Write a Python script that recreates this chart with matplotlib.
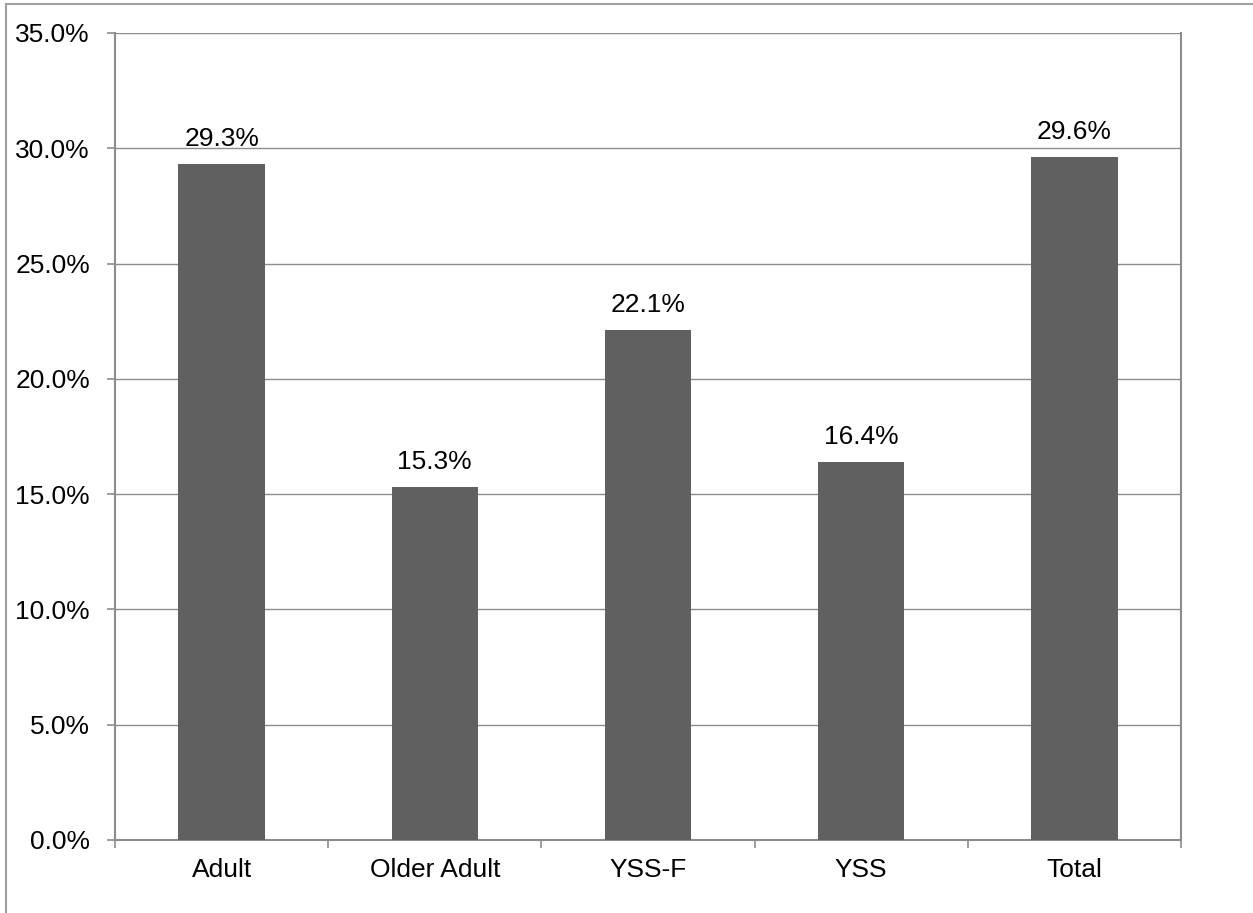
import matplotlib.pyplot as plt
from matplotlib.lines import Line2D
from matplotlib.ticker import FuncFormatter, MultipleLocator

categories = ["Adult", "Older Adult", "YSS-F", "YSS", "Total"]
values = [29.3, 15.3, 22.1, 16.4, 29.6]

BAR_COLOR = "#606060"
LINE_COLOR = "#8c8c8c"
FONT_SIZE = 19

plt.rcParams["font.family"] = ["Liberation Sans", "DejaVu Sans"]

fig = plt.figure(figsize=(12.53, 9.13), dpi=100)
ax = fig.add_axes([0.0918, 0.0800, 0.8507, 0.8839])

x = range(len(categories))
ax.bar(x, values, width=0.405, color=BAR_COLOR, zorder=3)

for xi, v in zip(x, values):
    ax.annotate(f"{v:.1f}%", (xi, v), xytext=(0, 13), textcoords="offset points",
                ha="center", va="baseline", fontsize=FONT_SIZE, color="black")

ax.set_xlim(-0.5, len(categories) - 0.5)
ax.set_ylim(0, 35)
ax.yaxis.set_major_locator(MultipleLocator(5))
ax.yaxis.set_major_formatter(FuncFormatter(lambda v, _: f"{v:.1f}%"))

# category ticks sit between the bars, labels in the middle
ax.set_xticks([i - 0.5 for i in range(len(categories) + 1)])
ax.set_xticklabels([])
ax.set_xticks(list(x), minor=True)
ax.set_xticklabels(categories, minor=True)
ax.tick_params(axis="x", which="minor", length=0, pad=13, labelsize=FONT_SIZE)
ax.tick_params(axis="x", which="major", length=6, color=LINE_COLOR, width=1.2)
ax.tick_params(axis="y", length=6, color=LINE_COLOR, width=1.2, pad=12, labelsize=FONT_SIZE)

ax.grid(axis="y", color=LINE_COLOR, linewidth=1.0, zorder=0)
for side in ["left", "bottom", "right"]:
    ax.spines[side].set_color(LINE_COLOR)
    ax.spines[side].set_linewidth(1.5)
ax.spines["top"].set_visible(False)

# outer chart frame
W, H = 1253, 913
fig.add_artist(Line2D([6 / W, 6 / W], [0, 1 - 4 / H], transform=fig.transFigure,
                      color="#a0a0a0", linewidth=1.5))
fig.add_artist(Line2D([6 / W, 1], [1 - 4 / H, 1 - 4 / H], transform=fig.transFigure,
                      color="#a0a0a0", linewidth=1.5))

fig.savefig("out.png", dpi=100)
